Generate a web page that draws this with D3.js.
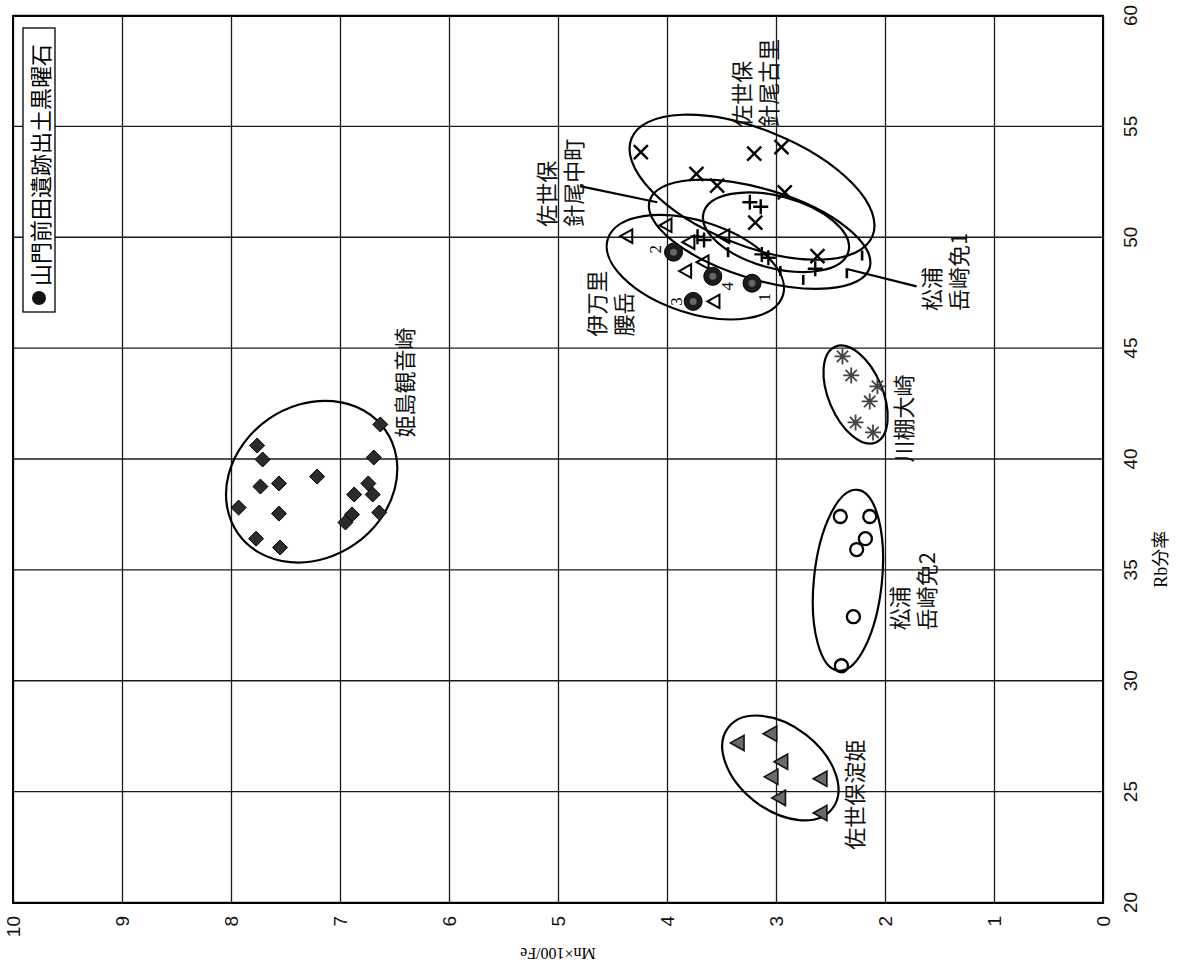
<!DOCTYPE html>
<html>
<head>
<meta charset="utf-8">
<script src="https://cdn.jsdelivr.net/npm/d3@7"></script>
<style>
  body { margin: 0; background: #fff; }
</style>
</head>
<body>
<svg id="chart" width="1180" height="967"></svg>
<script>
// ---- data (Rb分率 = x, Mn×100/Fe = y) ----
const rbTicks = [20, 25, 30, 35, 40, 45, 50, 55, 60];
const mnTicks = [0, 1, 2, 3, 4, 5, 6, 7, 8, 9, 10];

const yamakadoRb = [47.95, 49.35, 47.13, 48.26];
const yamakadoMn = [3.22, 3.94, 3.76, 3.58];
const yamakadoNo = ['1', '2', '3', '4'];

const himeRb = [41.58, 40.09, 40.63, 40.00, 39.23, 38.92, 38.78, 38.92, 38.42, 38.42, 37.83, 37.56, 37.52, 37.16, 37.61, 36.43, 36.03];
const himeMn = [6.63, 6.69, 7.76, 7.71, 7.21, 7.56, 7.73, 6.74, 6.87, 6.70, 7.93, 7.56, 6.89, 6.95, 6.64, 7.77, 7.55];

const yodohimeRb = [27.22, 27.63, 26.37, 25.69, 25.60, 24.74, 24.06];
const yodohimeMn = [3.34, 3.04, 2.94, 3.03, 2.58, 2.96, 2.58];

const matsuura2Rb = [37.43, 37.43, 36.43, 35.94, 32.91, 30.70];
const matsuura2Mn = [2.41, 2.14, 2.18, 2.26, 2.29, 2.40];

const kawatanaRb = [44.65, 43.79, 43.30, 42.62, 41.67, 41.22];
const kawatanaMn = [2.39, 2.31, 2.07, 2.14, 2.27, 2.11];

const kouraRb = [53.86, 53.79, 54.09, 52.88, 52.35, 52.05, 50.68, 49.17];
const kouraMn = [4.24, 3.20, 2.95, 3.73, 3.54, 2.92, 3.19, 2.62];

const nakamachiRb = [51.60, 51.40, 50.05, 49.90, 49.25, 49.10, 48.60];
const nakamachiMn = [3.24, 3.14, 3.72, 3.66, 3.13, 3.07, 2.64];

const matsuura1Rb = [49.35, 48.50, 48.10, 48.40, 49.20];
const matsuura1Mn = [3.44, 2.96, 2.75, 2.35, 2.21];

const imariRb = [50.07, 50.56, 49.80, 48.50, 48.90, 47.13, 50.07];
const imariMn = [4.36, 4.00, 3.79, 3.82, 3.66, 3.56, 3.47];

// group ellipses: centre (rb, mn), semi axes in px, angle in the unrotated frame
const groupEllipses = [
    { rb: 39.0, mn: 7.26, a: 90, b: 76, ang: 55 },
    { rb: 26.09, mn: 2.96, a: 66, b: 42, ang: 128 },
    { rb: 34.55, mn: 2.34, a: 91, b: 34, ang: 6 },
    { rb: 42.93, mn: 2.27, a: 52, b: 27, ang: 157 },
    { rb: 52.28, mn: 3.22, a: 130, b: 58, ang: 112 },
    { rb: 50.16, mn: 3.15, a: 115, b: 45, ang: 107 },
    { rb: 50.25, mn: 3.00, a: 75, b: 36, ang: 105 },
    { rb: 48.67, mn: 3.74, a: 92, b: 46, ang: 108 }
];

const groupLabels = [
    { lines: ['姫島観音崎'], rb: 40.99, mn: 6.42 },
    { lines: ['佐世保淀姫'], rb: 22.4, mn: 2.29 },
    { lines: ['松浦', '岳崎免2'], rb: 32.3, mn: 1.88 },
    { lines: ['川棚大崎'], rb: 39.86, mn: 1.84 },
    { lines: ['松浦', '岳崎免1'], rb: 46.7, mn: 1.59 },
    { lines: ['佐世保', '針尾中町'], rb: 50.5, mn: 5.12 },
    { lines: ['伊万里', '腰岳'], rb: 45.55, mn: 4.66 },
    { lines: ['佐世保', '針尾古里'], rb: 55.0, mn: 3.33 }
];

const leaderLines = [
    [[52.33, 4.80], [51.60, 4.09]],
    [[47.81, 1.71], [48.58, 2.34]]
];

// ---- layout ----
const plotW = 887, plotH = 1090;
const jp = '"Noto Sans CJK JP", sans-serif';

const svg = d3.select('#chart');
svg.append('rect').attr('width', 1180).attr('height', 967).attr('fill', '#fff');

// whole chart is turned a quarter to the left
const g = svg.append('g')
    .attr('transform', 'translate(13, 903) rotate(-90)');

const x = d3.scaleLinear().domain([20, 60]).range([0, plotW]);
const y = d3.scaleLinear().domain([0, 10]).range([plotH, 0]);

// grid + tick labels
const xAxis = g.append('g')
    .attr('transform', `translate(0, ${plotH})`)
    .call(d3.axisBottom(x).tickValues(rbTicks).tickSize(-plotH).tickFormat(d3.format('d')));
const yAxis = g.append('g')
    .call(d3.axisLeft(y).tickValues(mnTicks).tickSize(-plotW).tickFormat(d3.format('d')));

[xAxis, yAxis].forEach(ax => {
    ax.select('.domain').remove();
    ax.selectAll('line').attr('stroke', '#1a1a1a').attr('stroke-width', 1.3);
    ax.selectAll('text')
        .attr('font-family', '"Liberation Sans", Arial, sans-serif')
        .attr('font-size', 19)
        .attr('fill', '#111');
});
xAxis.selectAll('text').attr('y', 27).attr('dy', '0.35em');
yAxis.selectAll('text').attr('x', -13).attr('dy', '0.35em');

g.append('rect')
    .attr('width', plotW).attr('height', plotH)
    .attr('fill', 'none').attr('stroke', '#000').attr('stroke-width', 2);

// axis titles
g.append('text')
    .attr('x', x(35.5)).attr('y', plotH + 58)
    .attr('text-anchor', 'middle').attr('dominant-baseline', 'central')
    .attr('font-family', '"Liberation Serif", ' + jp).attr('font-size', 18)
    .text('Rb分率');
g.append('text')
    .attr('transform', `translate(-50, ${y(5)}) rotate(-90)`)
    .attr('text-anchor', 'middle').attr('dominant-baseline', 'central')
    .attr('font-family', '"Liberation Serif", serif').attr('font-size', 16)
    .text('Mn×100/Fe');

// ---- markers ----
const markerPath = {
    diamond: s => `M0,${-s}L${s},0L0,${s}L${-s},0Z`,
    triangle: s => `M0,${-s}L${s * 0.9},${s * 0.6}L${-s * 0.9},${s * 0.6}Z`,
    times: s => `M${-s},${-s}L${s},${s}M${-s},${s}L${s},${-s}`,
    plus: s => `M${-s},0H${s}M0,${-s}V${s}`,
    star: s => {
        let p = '';
        for (let i = 0; i < 4; i++) {
            const t = i * Math.PI / 4;
            p += `M${-s * Math.cos(t)},${-s * Math.sin(t)}L${s * Math.cos(t)},${s * Math.sin(t)}`;
        }
        return p;
    },
    dash: s => `M${-s},0H${s}`
};

const series = [
    { rb: himeRb, mn: himeMn, shape: 'diamond', size: 7.5, fill: '#2b2b2b', stroke: '#000', sw: 1 },
    { rb: yodohimeRb, mn: yodohimeMn, shape: 'triangle', size: 8.5, fill: '#6a6a6a', stroke: '#111', sw: 1.6 },
    { rb: matsuura2Rb, mn: matsuura2Mn, shape: 'circle', size: 6.5, fill: 'none', stroke: '#000', sw: 2.3 },
    { rb: kawatanaRb, mn: kawatanaMn, shape: 'star', size: 8, fill: 'none', stroke: '#444', sw: 1.8 },
    { rb: kouraRb, mn: kouraMn, shape: 'times', size: 7, fill: 'none', stroke: '#000', sw: 2.4 },
    { rb: nakamachiRb, mn: nakamachiMn, shape: 'plus', size: 7.5, fill: 'none', stroke: '#000', sw: 2.4 },
    { rb: matsuura1Rb, mn: matsuura1Mn, shape: 'dash', size: 5, fill: 'none', stroke: '#000', sw: 2.6 },
    { rb: imariRb, mn: imariMn, shape: 'triangle', size: 7.5, fill: 'none', stroke: '#000', sw: 2 },
    { rb: yamakadoRb, mn: yamakadoMn, shape: 'circle', size: 9, fill: '#1c1c1c', stroke: '#000', sw: 1 }
];

// ellipses first so markers sit on top
g.append('g').selectAll('ellipse')
    .data(groupEllipses)
    .join('ellipse')
    .attr('cx', d => x(d.rb))
    .attr('cy', d => y(d.mn))
    .attr('rx', d => d.a)
    .attr('ry', d => d.b)
    .attr('transform', d => `rotate(${d.ang}, ${x(d.rb)}, ${y(d.mn)})`)
    .attr('fill', 'none')
    .attr('stroke', '#000')
    .attr('stroke-width', 2.2);

series.forEach(s => {
    const pts = s.rb.map((r, i) => [r, s.mn[i]]);
    const sel = g.append('g').selectAll('.m').data(pts);
    if (s.shape === 'circle') {
        sel.join('circle')
            .attr('cx', d => x(d[0])).attr('cy', d => y(d[1]))
            .attr('r', s.size)
            .attr('fill', s.fill).attr('stroke', s.stroke).attr('stroke-width', s.sw);
    } else {
        sel.join('path')
            .attr('transform', d => `translate(${x(d[0])}, ${y(d[1])})`)
            .attr('d', markerPath[s.shape](s.size))
            .attr('fill', s.fill).attr('stroke', s.stroke).attr('stroke-width', s.sw);
    }
});

// speckled centre of the dark markers
g.append('g').selectAll('circle')
    .data(yamakadoRb.map((r, i) => [r, yamakadoMn[i]]))
    .join('circle')
    .attr('cx', d => x(d[0])).attr('cy', d => y(d[1]))
    .attr('r', 3.5).attr('fill', '#666');

// point numbers
g.append('g').selectAll('text')
    .data(yamakadoNo)
    .join('text')
    .attr('x', (d, i) => x(yamakadoRb[i]) + [-14, 3, 0, -10][i])
    .attr('y', (d, i) => y(yamakadoMn[i]) + [12, -18, -17, 15][i])
    .attr('text-anchor', 'middle').attr('dominant-baseline', 'central')
    .attr('font-family', '"Liberation Serif", serif').attr('font-size', 17)
    .text(d => d);

// leader lines
leaderLines.forEach(l => {
    g.append('line')
        .attr('x1', x(l[0][0])).attr('y1', y(l[0][1]))
        .attr('x2', x(l[1][0])).attr('y2', y(l[1][1]))
        .attr('stroke', '#000').attr('stroke-width', 2.2);
});

// group labels
groupLabels.forEach(lb => {
    const t = g.append('text')
        .attr('font-family', jp).attr('font-size', 22)
        .attr('fill', '#111');
    lb.lines.forEach((line, i) => {
        t.append('tspan')
            .attr('x', x(lb.rb))
            .attr('y', y(lb.mn) + i * 27)
            .attr('dominant-baseline', 'central')
            .text(line);
    });
});

// legend box (top right of the unrotated plot)
const legend = g.append('g').attr('transform', 'translate(591, 10)');
legend.append('rect')
    .attr('width', 284).attr('height', 32)
    .attr('fill', '#fff').attr('stroke', '#000').attr('stroke-width', 1.3);
legend.append('circle')
    .attr('cx', 14).attr('cy', 16).attr('r', 7).attr('fill', '#111');
legend.append('text')
    .attr('x', 26).attr('y', 16)
    .attr('dominant-baseline', 'central')
    .attr('font-family', jp).attr('font-size', 22)
    .text('山門前田遺跡出土黒曜石');
</script>
</body>
</html>
